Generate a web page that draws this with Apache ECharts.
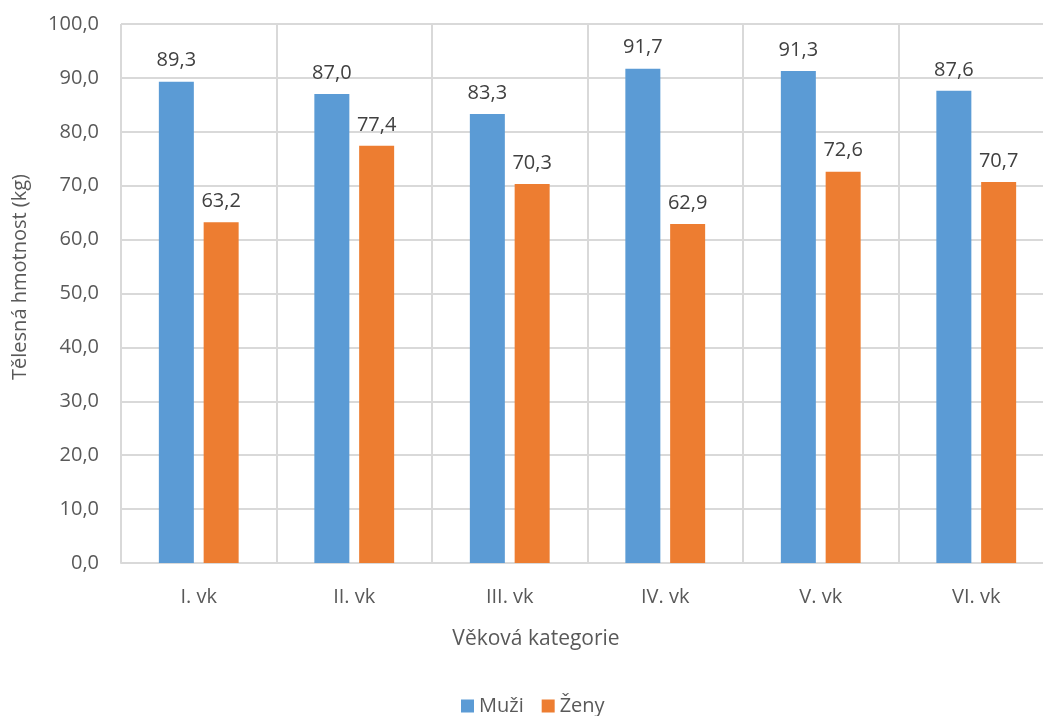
<!DOCTYPE html>
<html>
<head>
<meta charset="utf-8">
<script src="https://cdn.jsdelivr.net/npm/echarts@6/dist/echarts.min.js"></script>
<style>html,body{margin:0;padding:0;background:#fff;overflow:hidden;width:1043px;height:716px;}#c{width:1054px;height:716px;}</style>
</head>
<body>
<div id="c"></div>
<script>
const categories = ["I. vk", "II. vk", "III. vk", "IV. vk", "V. vk", "VI. vk"];
const muzi = [89.3, 87.0, 83.3, 91.7, 91.3, 87.6];
const zeny = [63.2, 77.4, 70.3, 62.9, 72.6, 70.7];
const seriesNames = ["Muži", "Ženy"];
const xTitle = "Věková kategorie";
const yTitle = "Tělesná hmotnost (kg)";

const FONT = "Open Sans";
const fmt = v => Number(v).toFixed(1).replace('.', ',');

const chart = echarts.init(document.getElementById('c'), null, {renderer: 'canvas'});
chart.setOption({
  animation: false,
  textStyle: {fontFamily: FONT},
  grid: {left: 121, right: 0, top: 24, bottom: 153, containLabel: false},
  title: {
    text: xTitle,
    left: 531, top: 624,
    textAlign: 'center',
    textStyle: {fontFamily: FONT, fontSize: 21, fontWeight: 'normal', color: '#595959'}
  },
  graphic: [{
    type: 'text',
    x: 20, y: 277,
    rotation: Math.PI / 2,
    style: {text: yTitle, align: 'center', verticalAlign: 'middle', fontFamily: FONT, fontSize: 20, fill: '#595959'}
  }],
  legend: {
    data: seriesNames,
    top: 691,
    left: 456,
    itemWidth: 13, itemHeight: 13,
    itemGap: 18,
    icon: 'rect',
    textStyle: {fontFamily: FONT, fontSize: 20, color: '#595959'}
  },
  xAxis: {
    type: 'category',
    data: categories,
    axisLine: {show: true, lineStyle: {color: '#d9d9d9', width: 2}},
    axisTick: {show: false},
    axisLabel: {margin: 24, fontFamily: FONT, fontSize: 20, color: '#595959'},
    splitLine: {show: true, lineStyle: {color: '#d9d9d9', width: 2}}
  },
  yAxis: {
    type: 'value',
    min: 0, max: 100, interval: 10,
    axisLine: {show: false},
    axisTick: {show: false},
    axisLabel: {margin: 22, fontFamily: FONT, fontSize: 20, color: '#595959', formatter: fmt},
    splitLine: {show: true, lineStyle: {color: '#d9d9d9', width: 2}}
  },
  series: [
    {
      name: seriesNames[0], type: 'bar', data: muzi,
      barWidth: 35, barGap: '28%',
      itemStyle: {color: '#5b9bd5'},
      label: {show: true, position: 'top', distance: 11, fontFamily: FONT, fontSize: 20, color: '#404040', formatter: p => fmt(p.value)}
    },
    {
      name: seriesNames[1], type: 'bar', data: zeny,
      barWidth: 35,
      itemStyle: {color: '#ed7d31'},
      label: {show: true, position: 'top', distance: 11, fontFamily: FONT, fontSize: 20, color: '#404040', formatter: p => fmt(p.value)}
    }
  ]
});
</script>
</body>
</html>
